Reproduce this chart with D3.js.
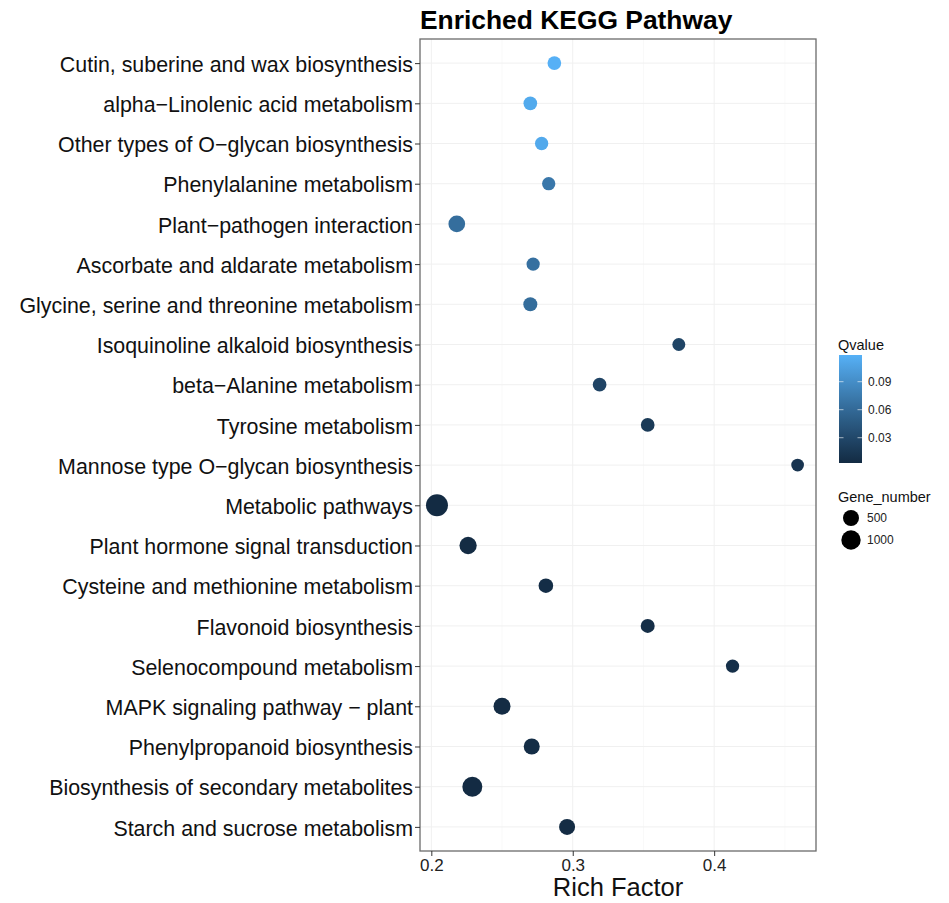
<!DOCTYPE html>
<html lang="en">
<head>
<meta charset="utf-8">
<title>Enriched KEGG Pathway</title>
<script src="https://d3js.org/d3.v7.min.js"></script>
<style>
  body { margin: 0; background: #fff; }
  svg text { font-family: "Liberation Sans", Arial, Helvetica, sans-serif; }
</style>
</head>
<body>
<script>
// pathways, top to bottom
var pathways = [
  "Cutin, suberine and wax biosynthesis",
  "alpha\u2212Linolenic acid metabolism",
  "Other types of O\u2212glycan biosynthesis",
  "Phenylalanine metabolism",
  "Plant\u2212pathogen interaction",
  "Ascorbate and aldarate metabolism",
  "Glycine, serine and threonine metabolism",
  "Isoquinoline alkaloid biosynthesis",
  "beta\u2212Alanine metabolism",
  "Tyrosine metabolism",
  "Mannose type O\u2212glycan biosynthesis",
  "Metabolic pathways",
  "Plant hormone signal transduction",
  "Cysteine and methionine metabolism",
  "Flavonoid biosynthesis",
  "Selenocompound metabolism",
  "MAPK signaling pathway \u2212 plant",
  "Phenylpropanoid biosynthesis",
  "Biosynthesis of secondary metabolites",
  "Starch and sucrose metabolism"
];
var richFactor = [0.287, 0.270, 0.278, 0.283, 0.218, 0.272, 0.270, 0.375, 0.319, 0.353,
                  0.459, 0.204, 0.226, 0.281, 0.353, 0.413, 0.250, 0.271, 0.229, 0.296];
var qValue = [0.118, 0.113, 0.112, 0.072, 0.064, 0.066, 0.063, 0.028, 0.027, 0.017,
              0.012, 0.003, 0.004, 0.005, 0.006, 0.007, 0.004, 0.005, 0.003, 0.004];
var geneNumber = [259, 259, 225, 225, 590, 225, 286, 201, 259, 259,
                  179, 1490, 670, 344, 286, 225, 630, 500, 1100, 500];

var xTicks = [0.2, 0.3, 0.4];
var xMinor = [0.25, 0.35, 0.45];
var qTicks = [0.03, 0.06, 0.09];
var geneLegend = [500, 1000];

var W = 949, H = 903;
var pLeft = 420, pRight = 816, pTop = 39, pBottom = 851;

var svg = d3.select("body").append("svg")
  .attr("width", W).attr("height", H);

var x = d3.scaleLinear().domain([0.192, 0.472]).range([pLeft, pRight]);
var y = d3.scalePoint().domain(pathways).range([pTop, pBottom]).padding(0.6);
var color = d3.scaleLinear().domain([0.0029, 0.1186])
  .range(["#132B43", "#56B1F7"]).interpolate(d3.interpolateLab);
var size = d3.scaleSqrt().domain([0, 1500]).range([3.9, 11]);

// panel grid
var grid = svg.append("g");
grid.selectAll("line.minor").data(xMinor).enter().append("line")
  .attr("x1", function(d) { return x(d); }).attr("x2", function(d) { return x(d); })
  .attr("y1", pTop).attr("y2", pBottom)
  .attr("stroke", "#f8f8f8").attr("stroke-width", 0.8);
grid.selectAll("line.major").data(xTicks).enter().append("line")
  .attr("x1", function(d) { return x(d); }).attr("x2", function(d) { return x(d); })
  .attr("y1", pTop).attr("y2", pBottom)
  .attr("stroke", "#f0f0f0").attr("stroke-width", 1);
grid.selectAll("line.row").data(pathways).enter().append("line")
  .attr("x1", pLeft).attr("x2", pRight)
  .attr("y1", function(d) { return y(d); }).attr("y2", function(d) { return y(d); })
  .attr("stroke", "#f0f0f0").attr("stroke-width", 1);

// points
var pts = pathways.map(function(p, i) {
  return { name: p, rf: richFactor[i], q: qValue[i], n: geneNumber[i] };
});
svg.append("g").selectAll("circle").data(pts).enter().append("circle")
  .attr("cx", function(d) { return x(d.rf); })
  .attr("cy", function(d) { return y(d.name); })
  .attr("r", function(d) { return size(d.n); })
  .attr("fill", function(d) { return color(d.q); });

// border
svg.append("rect")
  .attr("x", pLeft).attr("y", pTop)
  .attr("width", pRight - pLeft).attr("height", pBottom - pTop)
  .attr("fill", "none").attr("stroke", "#6b6b6b").attr("stroke-width", 1.3);

// axes
var yAxis = d3.axisLeft(y).tickSize(5).tickPadding(2);
var gy = svg.append("g").attr("transform", "translate(" + pLeft + ",0)").call(yAxis);
gy.select(".domain").remove();
gy.selectAll(".tick line").attr("stroke", "#333");
gy.selectAll(".tick text")
  .attr("fill", "#111").style("font-size", "21.4px")
  .attr("dy", "0.38em")
  .attr("font-family", null);

var xAxis = d3.axisBottom(x).tickValues(xTicks).tickFormat(d3.format(".1f")).tickSize(5).tickPadding(3);
var gx = svg.append("g").attr("transform", "translate(0," + pBottom + ")").call(xAxis);
gx.select(".domain").remove();
gx.selectAll(".tick line").attr("stroke", "#333");
gx.selectAll(".tick text")
  .attr("fill", "#222").style("font-size", "17px")
  .attr("font-family", null);

svg.append("text")
  .attr("x", (pLeft + pRight) / 2).attr("y", 896)
  .attr("text-anchor", "middle")
  .style("font-size", "25.5px").attr("fill", "#111")
  .text("Rich Factor");

svg.append("text")
  .attr("x", pLeft).attr("y", 28.5)
  .style("font-size", "26.4px").style("font-weight", "bold")
  .text("Enriched KEGG Pathway");

// colour legend
var barX = 839, barW = 23, barTop = 355, barBot = 463;
var qy = d3.scaleLinear().domain(color.domain()).range([barBot, barTop]);
svg.append("text").attr("x", 838).attr("y", 350)
  .style("font-size", "14.5px").attr("fill", "#111").text("Qvalue");

var defs = svg.append("defs");
var grad = defs.append("linearGradient").attr("id", "qgrad")
  .attr("x1", 0).attr("y1", 1).attr("x2", 0).attr("y2", 0);
d3.range(0, 1.0001, 0.1).forEach(function(t) {
  var v = color.domain()[0] + t * (color.domain()[1] - color.domain()[0]);
  grad.append("stop").attr("offset", t).attr("stop-color", color(v));
});
svg.append("rect").attr("x", barX).attr("y", barTop)
  .attr("width", barW).attr("height", barBot - barTop)
  .attr("fill", "url(#qgrad)");

var qt = svg.append("g").selectAll("g").data(qTicks).enter().append("g");
qt.append("line")
  .attr("x1", barX).attr("x2", barX + 4.5)
  .attr("y1", function(d) { return qy(d); }).attr("y2", function(d) { return qy(d); })
  .attr("stroke", "#fff").attr("stroke-opacity", 0.6);
qt.append("line")
  .attr("x1", barX + barW - 4.5).attr("x2", barX + barW)
  .attr("y1", function(d) { return qy(d); }).attr("y2", function(d) { return qy(d); })
  .attr("stroke", "#fff").attr("stroke-opacity", 0.6);
qt.append("text")
  .attr("x", 868).attr("y", function(d) { return qy(d) + 4.3; })
  .style("font-size", "12px").attr("fill", "#222")
  .text(function(d) { return d3.format(".2f")(d); });

// size legend
svg.append("text").attr("x", 838).attr("y", 502)
  .style("font-size", "14.5px").attr("fill", "#111").text("Gene_number");
var sl = svg.append("g").selectAll("g").data(geneLegend).enter().append("g")
  .attr("transform", function(d, i) { return "translate(851," + (518 + i * 22) + ")"; });
sl.append("circle").attr("r", function(d) { return size(d); }).attr("fill", "#000");
sl.append("text").attr("x", 16).attr("y", 4.3)
  .style("font-size", "12px").attr("fill", "#222")
  .text(function(d) { return d; });
</script>
</body>
</html>
